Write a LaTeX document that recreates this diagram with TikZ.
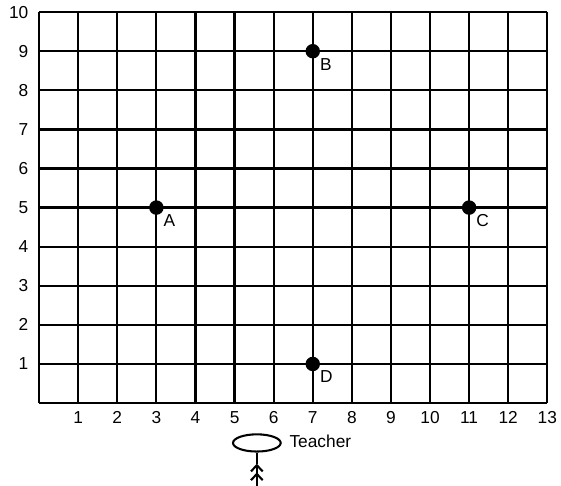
\documentclass[tikz,border=0pt]{standalone}
\usepackage{fontspec}
\setmainfont{Liberation Sans}
\usetikzlibrary{arrows.meta,shapes.geometric}
\begin{document}
\begin{tikzpicture}[x=1cm,y=1cm,
  gridline/.style={line width=1.6pt},
  lbl/.style={font=\fontsize{12.6}{14}\selectfont, inner sep=0pt},
  dotpt/.style={circle, fill=black, minimum size=0.37cm, inner sep=0pt},
  ptlbl/.style={font=\fontsize{12.6}{14}\selectfont, inner sep=0pt, anchor=north west}]
\useasboundingbox (-1.0,-2.12) rectangle (13.35,10.31);
\foreach \i in {0,...,13} \draw[gridline] (\i,0) -- (\i,10);
\foreach \j in {0,...,10} \draw[gridline] (0,\j) -- (13,\j);
\foreach \j in {1,...,10} \node[lbl, anchor=east] (y\j) at (-0.27,\j) {\j};
\foreach \i in {1,...,13} \node[lbl, anchor=north] (x\i) at (\i,-0.2) {\i};
\node[dotpt] (A) at (3,5) {};
\node[dotpt] (B) at (7,9) {};
\node[dotpt] (C) at (11,5) {};
\node[dotpt] (D) at (7,1) {};
\node[ptlbl] (la) at (3.18,4.83) {A};
\node[ptlbl] (lb) at (7.18,8.83) {B};
\node[ptlbl] (lc) at (11.18,4.83) {C};
\node[ptlbl] (ld) at (7.18,0.83) {D};
\node[ellipse, draw, line width=1.5pt, minimum width=1.22cm, minimum height=0.44cm, inner sep=0pt] (T) at (5.57,-1.02) {};
\node[lbl, anchor=west] (tl) at (6.4,-0.99) {Teacher};
\coordinate (tip) at (5.57,-1.55);
\coordinate (base) at (5.57,-2.12);
\draw[line width=1.5pt] (T.south) -- (tip);
\draw[line width=1.5pt, -{Straight Barb[length=0.16cm,width=0.3cm,line width=1.5pt]Straight Barb[length=0.16cm,width=0.3cm,line width=1.5pt]}] (base) -- (tip);
\end{tikzpicture}
\end{document}
